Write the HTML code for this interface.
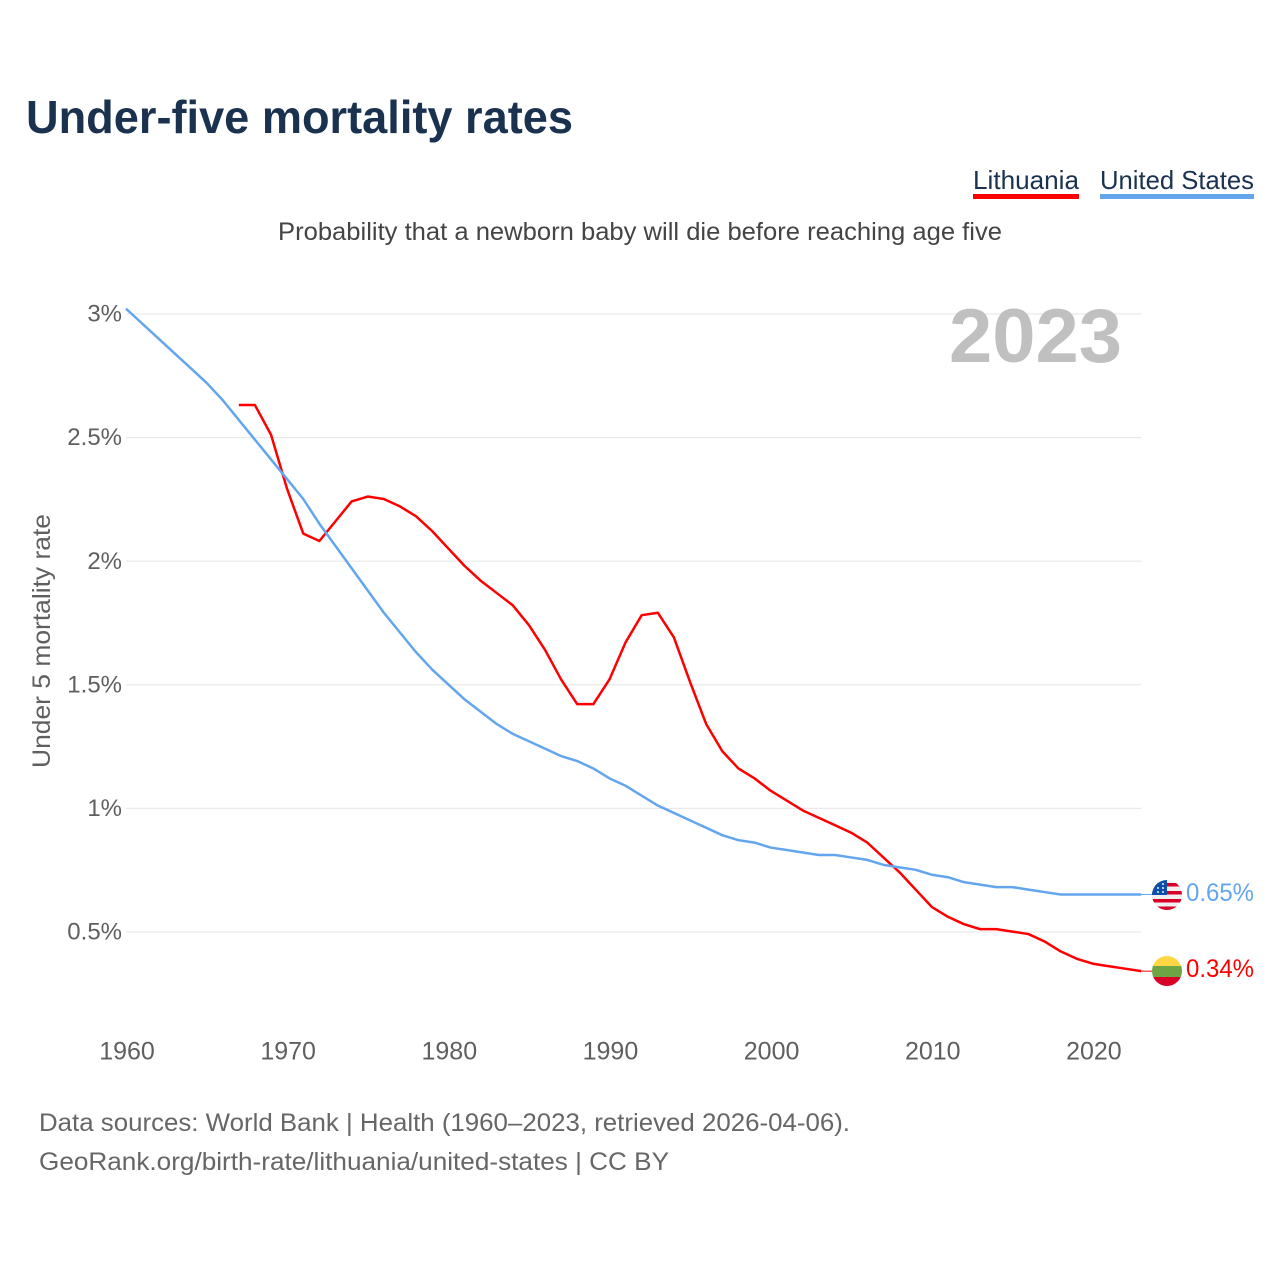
<!DOCTYPE html>
<html lang="en">
<head>
<meta charset="utf-8">
<title>Under-five mortality rates</title>
<style>
html,body{margin:0;padding:0;background:#fff;width:1280px;height:1280px;overflow:hidden}
svg{display:block}
text{font-family:"Liberation Sans",sans-serif}
</style>
</head>
<body>
<svg id="chart" width="1280" height="1280" viewBox="0 0 1280 1280" xmlns="http://www.w3.org/2000/svg">
  <defs>
    <clipPath id="flag-clip-us"><circle cx="1167" cy="895" r="15"/></clipPath>
    <clipPath id="flag-clip-lt"><circle cx="1167" cy="971" r="15"/></clipPath>
  </defs>
  <text x="26" y="133" font-size="46" font-weight="700" fill="#1a3250" textLength="547" lengthAdjust="spacingAndGlyphs">Under-five mortality rates</text>
  <g>
    <g>
      <text x="973" y="189" font-size="26" fill="#1a3250" textLength="106" lengthAdjust="spacingAndGlyphs">Lithuania</text>
      <rect x="973" y="194" width="106" height="5" fill="#ff0000"/>
    </g>
    <g>
      <text x="1100" y="189" font-size="26" fill="#1a3250" textLength="154" lengthAdjust="spacingAndGlyphs">United States</text>
      <rect x="1100" y="194" width="154" height="5" fill="#63a6ee"/>
    </g>
  </g>
  <text x="278" y="240" font-size="25" fill="#444444" textLength="724" lengthAdjust="spacingAndGlyphs">Probability that a newborn baby will die before reaching age five</text>
  <text transform="translate(50,768) rotate(-90)" font-size="25" fill="#5f5f5f" textLength="254" lengthAdjust="spacingAndGlyphs">Under 5 mortality rate</text>
  <g id="grid"></g>
  <g id="y-axis"></g>
  <g id="x-axis"></g>
  <text x="949" y="362" font-size="76" font-weight="700" fill="#c0c0c0" textLength="173" lengthAdjust="spacingAndGlyphs">2023</text>
  <g id="series"></g>
  <g clip-path="url(#flag-clip-us)">
    <rect x="1152" y="880" width="30" height="30" fill="#f0f0f0"/>
    <rect x="1152" y="883" width="30" height="3.5" fill="#d80027"/>
    <rect x="1152" y="891" width="30" height="3.5" fill="#d80027"/>
    <rect x="1152" y="899" width="30" height="3.5" fill="#d80027"/>
    <rect x="1152" y="906.5" width="30" height="4" fill="#d80027"/>
    <rect x="1152" y="880" width="15" height="15" fill="#0a4fa8"/>
    <circle cx="1158" cy="888" r="1" fill="#f0f0f0"/>
    <circle cx="1163" cy="888" r="1" fill="#f0f0f0"/>
    <circle cx="1163" cy="884" r="1" fill="#f0f0f0"/>
    <circle cx="1158" cy="892" r="1" fill="#f0f0f0"/>
    <circle cx="1163" cy="892" r="1" fill="#f0f0f0"/>
  </g>
  <g clip-path="url(#flag-clip-lt)">
    <rect x="1152" y="956" width="30" height="10" fill="#ffd644"/>
    <rect x="1152" y="966" width="30" height="11" fill="#6da544"/>
    <rect x="1152" y="977" width="30" height="10" fill="#d80027"/>
  </g>
  <text id="end-label-us" x="1186" y="901" font-size="25" fill="#63a6ee" textLength="68" lengthAdjust="spacingAndGlyphs"></text>
  <text id="end-label-lt" x="1186" y="977" font-size="25" fill="#ff0000" textLength="68" lengthAdjust="spacingAndGlyphs"></text>
  <text x="39" y="1131" font-size="25" fill="#666666" textLength="811" lengthAdjust="spacingAndGlyphs">Data sources: World Bank | Health (1960–2023, retrieved 2026-04-06).</text>
  <text x="39" y="1170" font-size="25" fill="#666666" textLength="630" lengthAdjust="spacingAndGlyphs">GeoRank.org/birth-rate/lithuania/united-states | CC BY</text>
</svg>
<script>
const yTickValues = [0.5, 1, 1.5, 2, 2.5, 3];
const yTickLabels = ["0.5%", "1%", "1.5%", "2%", "2.5%", "3%"];
const xTickYears = [1960, 1970, 1980, 1990, 2000, 2010, 2020];
const xTickLabels = ["1960", "1970", "1980", "1990", "2000", "2010", "2020"];
const usStartYear = 1960;
const usValues = [3.02,2.96,2.90,2.84,2.78,2.72,2.65,2.57,2.49,2.41,2.33,2.25,2.15,2.06,1.97,1.88,1.79,1.71,1.63,1.56,1.50,1.44,1.39,1.34,1.30,1.27,1.24,1.21,1.19,1.16,1.12,1.09,1.05,1.01,0.98,0.95,0.92,0.89,0.87,0.86,0.84,0.83,0.82,0.81,0.81,0.80,0.79,0.77,0.76,0.75,0.73,0.72,0.70,0.69,0.68,0.68,0.67,0.66,0.65,0.65,0.65,0.65,0.65,0.65];
const ltStartYear = 1967;
const ltValues = [2.63,2.63,2.51,2.29,2.11,2.08,2.16,2.24,2.26,2.25,2.22,2.18,2.12,2.05,1.98,1.92,1.87,1.82,1.74,1.64,1.52,1.42,1.42,1.52,1.67,1.78,1.79,1.69,1.51,1.34,1.23,1.16,1.12,1.07,1.03,0.99,0.96,0.93,0.90,0.86,0.80,0.74,0.67,0.60,0.56,0.53,0.51,0.51,0.50,0.49,0.46,0.42,0.39,0.37,0.36,0.35,0.34];

const NS = "http://www.w3.org/2000/svg";
const xScale = function (year) { return 126 + (year - 1960) * 16.115; };
const yScale = function (v) { return 1055.2 - v * 247.2; };
const PLOT_RIGHT = xScale(2023);

const grid = document.getElementById("grid");
const yAxis = document.getElementById("y-axis");
const xAxis = document.getElementById("x-axis");
const series = document.getElementById("series");

yTickValues.forEach(function (v, i) {
  const line = document.createElementNS(NS, "line");
  line.setAttribute("x1", xScale(1960));
  line.setAttribute("x2", PLOT_RIGHT);
  line.setAttribute("y1", yScale(v) + 0.4);
  line.setAttribute("y2", yScale(v) + 0.4);
  line.setAttribute("stroke", "#e9e9e9");
  line.setAttribute("stroke-width", "1.2");
  
  
  grid.appendChild(line);

  const label = document.createElementNS(NS, "text");
  label.setAttribute("x", 122);
  label.setAttribute("y", yScale(v) + 8);
  label.setAttribute("text-anchor", "end");
  label.setAttribute("font-size", "24");
  label.setAttribute("fill", "#5f5f5f");
  label.textContent = yTickLabels[i];
  
  
  yAxis.appendChild(label);
});

xTickYears.forEach(function (year, i) {
  const label = document.createElementNS(NS, "text");
  label.setAttribute("x", xScale(year) + 1);
  label.setAttribute("y", 1059.5);
  label.setAttribute("text-anchor", "middle");
  label.setAttribute("font-size", "25");
  label.setAttribute("fill", "#5f5f5f");
  label.textContent = xTickLabels[i];
  
  
  xAxis.appendChild(label);
});

function pointsFor(values, startYear) {
  return values.map(function (v, i) {
    return xScale(startYear + i).toFixed(2) + "," + yScale(v).toFixed(2);
  }).join(" ");
}

const ltLine = document.createElementNS(NS, "polyline");
ltLine.setAttribute("points", pointsFor(ltValues, ltStartYear));
ltLine.setAttribute("fill", "none");
ltLine.setAttribute("stroke", "#ff0000");
ltLine.setAttribute("stroke-width", "2.5");
ltLine.setAttribute("stroke-linejoin", "round");


series.appendChild(ltLine);

const usLine = document.createElementNS(NS, "polyline");
usLine.setAttribute("points", pointsFor(usValues, usStartYear));
usLine.setAttribute("fill", "none");
usLine.setAttribute("stroke", "#63a6ee");
usLine.setAttribute("stroke-width", "2.5");
usLine.setAttribute("stroke-linejoin", "round");


series.appendChild(usLine);

const usLast = usValues[usValues.length - 1];
const ltLast = ltValues[ltValues.length - 1];

const usLeader = document.createElementNS(NS, "line");
usLeader.setAttribute("x1", PLOT_RIGHT);
usLeader.setAttribute("x2", 1152);
usLeader.setAttribute("y1", yScale(usLast));
usLeader.setAttribute("y2", yScale(usLast));
usLeader.setAttribute("stroke", "#63a6ee");
usLeader.setAttribute("stroke-width", "1");


series.appendChild(usLeader);

const ltLeader = document.createElementNS(NS, "line");
ltLeader.setAttribute("x1", PLOT_RIGHT);
ltLeader.setAttribute("x2", 1152);
ltLeader.setAttribute("y1", yScale(ltLast));
ltLeader.setAttribute("y2", yScale(ltLast));
ltLeader.setAttribute("stroke", "#ff0000");
ltLeader.setAttribute("stroke-width", "1");


series.appendChild(ltLeader);

document.getElementById("end-label-us").textContent = usLast.toFixed(2) + "%";
document.getElementById("end-label-lt").textContent = ltLast.toFixed(2) + "%";
</script>
</body>
</html>
